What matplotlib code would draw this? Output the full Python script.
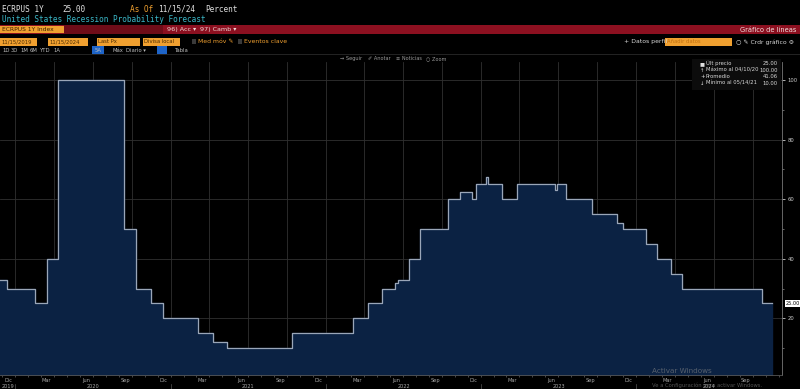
import matplotlib
matplotlib.use('Agg')
import matplotlib.pyplot as plt
import matplotlib.dates as mdates
from matplotlib.patches import Rectangle
import numpy as np
import pandas as pd

# ECRPUS 1Y - United States Recession Probability Forecast (step series)
dates = ['2019-11-15', '2019-12-12', '2020-02-16', '2020-03-15', '2020-04-10',
         '2020-09-12', '2020-10-11', '2020-11-15', '2020-12-13', '2021-03-06',
         '2021-04-10', '2021-05-14', '2021-10-13', '2022-03-05', '2022-04-10',
         '2022-05-13', '2022-06-12', '2022-06-19', '2022-07-15', '2022-08-10',
         '2022-10-15', '2022-11-12', '2022-12-10', '2022-12-20', '2023-01-13',
         '2023-01-18', '2023-02-19', '2023-03-26', '2023-06-23', '2023-06-28',
         '2023-07-19', '2023-09-20', '2023-11-16', '2023-12-01', '2024-01-25',
         '2024-02-20', '2024-03-22', '2024-04-17', '2024-10-22', '2024-11-15']
values = [33, 30, 25, 40, 100,
          50, 30, 25, 20, 15,
          12, 10, 15, 20, 25,
          30, 32, 33, 40, 50,
          60, 62.5, 60, 65, 67.5,
          65, 60, 65, 63, 65,
          60, 55, 52, 50, 45,
          40, 35, 30, 25, 25]

month_labels = ['Dic', 'Mar', 'Jun', 'Sep']
y_ticks = [20, 40, 60, 80, 100]
legend_rows = [('\u25a0', 'Últ precio', '25.00'),
               ('\u2191', 'Máximo al 04/10/20', '100.00'),
               ('+', 'Promedio', '41.06'),
               ('\u2193', 'Mínimo al 05/14/21', '10.00')]

W, H = 800, 389
BG = 'black'
ORANGE = '#f0a030'
RED = '#8c1020'
FILL = '#0b2243'
LINE = '#9aa6b8'
GRID = '#303030'
TXT = '#c8c8c8'


def px(x):
    return x / W


def py(y):
    return 1 - y / H


def box(x0, y0, x1, y1, color, **kw):
    fig.add_artist(Rectangle((px(x0), py(y1)), px(x1) - px(x0), py(y0) - py(y1),
                             transform=fig.transFigure, facecolor=color,
                             edgecolor='none', **kw))


def label(x, y, s, color=TXT, size=4.5, ha='left', **kw):
    fig.text(px(x), py(y), s, color=color, fontsize=size, ha=ha, va='center', **kw)


fig = plt.figure(figsize=(8, 3.89), dpi=100, facecolor=BG)

# ---- header ----
mono = 'DejaVu Sans Mono'
label(2, 9, 'ECRPUS 1Y', color='#e0e0e0', size=5.6, family=mono)
label(62, 9, '25.00', color='#e0e0e0', size=5.6, family=mono)
label(130, 9, 'As Of', color=ORANGE, size=5.6, family=mono)
label(158, 9, '11/15/24', color='#e0e0e0', size=5.6, family=mono)
label(205, 9, 'Percent', color='#e0e0e0', size=5.6, family=mono)
label(2, 19, 'United States Recession Probability Forecast', color='#3bb8c8', size=5.6, family=mono)

box(0, 25, 800, 34, RED)
box(64, 25, 163, 34, '#6e0c18')
box(0, 26, 64, 33, ORANGE)
label(2, 29.5, 'ECRPUS 1Y Index', color='#3a2000', size=4.3)
label(167, 29.5, '96) Acc \u25be', color='#f0d8d8', size=4.6)
label(200, 29.5, '97) Camb \u25be', color='#f0d8d8', size=4.6)
label(796, 29.5, 'Gráfico de líneas', color='#f0e0e0', size=4.8, ha='right')

# input row
for x0, x1, s in [(0, 37, '11/15/2019'), (48, 88, '11/15/2024'),
                  (97, 140, 'Last Px'), (143, 180, 'Divisa local')]:
    box(x0, 38, x1, 45.5, ORANGE)
    label(x0 + 1.5, 41.8, s, color='#4a2a00', size=3.8)
box(192, 39.5, 196, 43.5, '#3a3a3a')
label(198, 41.8, 'Med móv \u270e', color=ORANGE, size=4.4)
box(238, 39.5, 242, 43.5, '#3a3a3a')
label(244, 41.8, 'Eventos clave', color=ORANGE, size=4.4)
label(624, 41.8, '+ Datos perfil', color='#d8d8d8', size=4.4)
box(665, 38, 732, 45.5, ORANGE)
label(667, 41.8, 'Añadir datos', color='#c07010', size=3.8)
label(736, 41.8, '\u25cb \u270e Crdr gráfico \u2699', color='#d8d8d8', size=4.4)

# period row
for x, s in [(2, '1D'), (11, '3D'), (20, '1M'), (30, '6M'), (40, 'YTD'),
             (53, '1A'), (95, '5A'), (112, 'Máx'), (126, 'Diario \u25be'), (175, 'Tabla')]:
    if s == '5A':
        box(92, 46.5, 104, 54, '#1e64c8')
    label(x, 50.3, s, color='#bdbdbd', size=3.8)
box(157, 46.5, 167, 54, '#1e64c8')
box(0, 54.5, 800, 55.2, '#222222')

# toolbar row
for x, s in [(340, '\u2192 Seguir'), (368, '\u2710 Anotar'), (396, '\u2261 Noticias'), (426, '\u25cb Zoom')]:
    label(x, 58.5, s, color='#9a9a9a', size=3.6)

# ---- chart ----
left, right, top, bottom = 0, 782, 62, 375
ax = fig.add_axes([px(left), py(bottom), px(right) - px(left), py(top) - py(bottom)])
ax.set_facecolor(BG)

d = pd.to_datetime(dates)
ax.fill_between(d, values, 0, step='post', color=FILL, zorder=2)
ax.step(d, values, where='post', color=LINE, linewidth=0.9, zorder=3)

ax.set_xlim(pd.Timestamp('2019-11-26'), pd.Timestamp('2024-12-09'))
ax.set_ylim(1, 106)

# gridlines at quarter boundaries, month labels centered in Dec/Mar/Jun/Sep
ax.xaxis.set_major_locator(mdates.MonthLocator(bymonth=[1, 4, 7, 10]))
ax.xaxis.set_major_formatter(plt.NullFormatter())
ax.xaxis.set_minor_locator(mdates.MonthLocator())
ax.tick_params(axis='x', which='both', colors='#666666', length=1.5, width=0.5, labelsize=3.8)
ax.grid(axis='x', which='major', color=GRID, linewidth=0.6, zorder=1)
ax.grid(axis='y', color=GRID, linewidth=0.6, zorder=1)

trans = ax.get_xaxis_transform()
for yr in range(2019, 2025):
    for mi, name in zip([12, 3, 6, 9], month_labels):
        mid = pd.Timestamp(yr, mi, 15)
        if pd.Timestamp('2019-11-26') < mid < pd.Timestamp('2024-12-09'):
            ax.text(mid, -0.016, name, transform=trans, color='#a8a8a8',
                    fontsize=3.6, ha='center', va='center', clip_on=False)

xmin, xmax = ax.get_xlim()
for yr in range(2019, 2025):
    a = max(mdates.date2num(pd.Timestamp(yr, 1, 1)), xmin)
    b = min(mdates.date2num(pd.Timestamp(yr + 1, 1, 1)), xmax)
    ax.text((a + b) / 2, -0.036, str(yr), transform=trans, color='#a8a8a8',
            fontsize=3.6, ha='center', va='center', clip_on=False)
    if yr > 2019:
        ax.plot([a, a], [-0.028, -0.045], transform=trans, color='#555555',
                linewidth=0.5, clip_on=False)

ax.yaxis.tick_right()
ax.set_yticks(y_ticks)
ax.set_yticks(np.arange(10, 101, 10), minor=True)
ax.tick_params(axis='y', which='both', colors='#cccccc', length=2, width=0.6,
               labelsize=3.8, pad=2)
ax.tick_params(axis='y', which='minor', length=1.2, colors='#777777')
for s in ['left', 'top']:
    ax.spines[s].set_visible(False)
ax.spines['right'].set_color('#777777')
ax.spines['bottom'].set_color('#555555')
for s in ['right', 'bottom']:
    ax.spines[s].set_linewidth(0.6)

# last value tag
ax.text(1.005, values[-1], '%.2f' % values[-1], transform=ax.get_yaxis_transform(),
        fontsize=3.6, color='black', va='center', ha='left',
        bbox=dict(boxstyle='square,pad=0.25', facecolor='white', edgecolor='none'),
        clip_on=False, zorder=5)

# legend box
box(692, 59, 781, 90, '#0c0c0c', zorder=4)
for i, (m, name, val) in enumerate(legend_rows):
    yy = 63.5 + i * 6.6
    fig.text(px(700), py(yy), m, color='#e0e0e0', fontsize=3.8, va='center', zorder=5)
    fig.text(px(706), py(yy), name, color='#d8d8d8', fontsize=3.8, va='center', zorder=5)
    fig.text(px(778), py(yy), val, color='#d8d8d8', fontsize=3.8, va='center', ha='right', zorder=5)

# windows activation watermark (sits over the date labels, as on the screen)
label(652, 371, 'Activar Windows', color='#8a8a8a', size=5.2, alpha=0.6)
label(652, 385.5, 'Ve a Configuración para activar Windows.', color='#8a8a8a', size=3.8, alpha=0.6)

fig.savefig('out.png', dpi=100, facecolor=BG)
